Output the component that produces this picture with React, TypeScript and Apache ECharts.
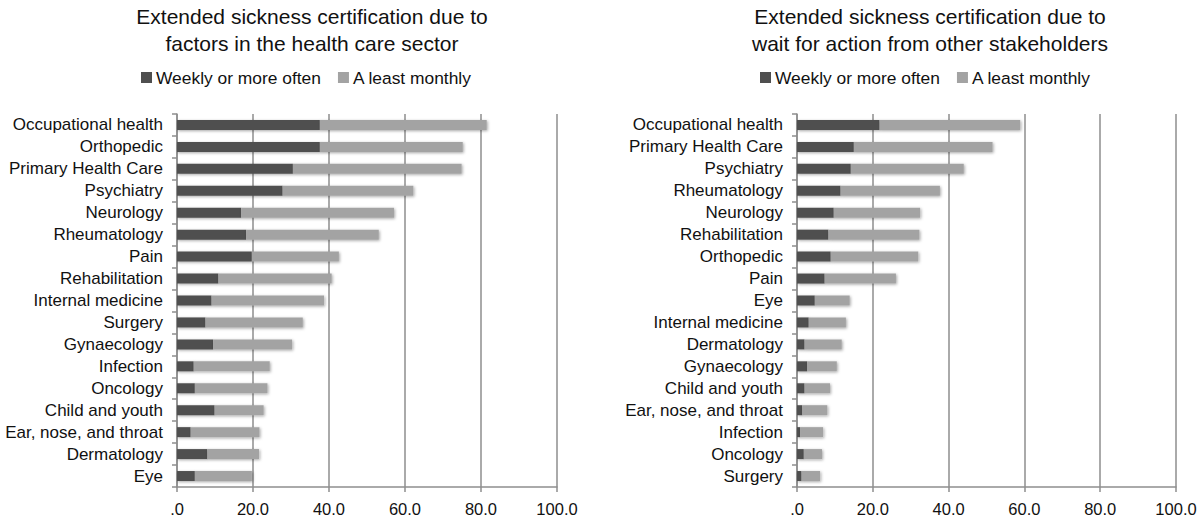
import React, { useEffect, useRef } from "react";
import * as echarts from "echarts";

const leftCategories = [
  "Occupational health", "Orthopedic", "Primary Health Care", "Psychiatry", "Neurology",
  "Rheumatology", "Pain", "Rehabilitation", "Internal medicine", "Surgery", "Gynaecology",
  "Infection", "Oncology", "Child and youth", "Ear, nose, and throat", "Dermatology", "Eye",
];
const leftWeekly = [37.6, 37.6, 30.5, 27.8, 16.9, 18.2, 19.7, 10.9, 9.1, 7.5, 9.5, 4.4, 4.7, 9.9, 3.6, 8.0, 4.7];
const leftMonthly = [43.9, 37.6, 44.4, 34.4, 40.2, 34.9, 22.9, 29.8, 29.6, 25.6, 20.8, 20.0, 19.1, 12.9, 18.1, 13.6, 15.0];

const rightCategories = [
  "Occupational health", "Primary Health Care", "Psychiatry", "Rheumatology", "Neurology",
  "Rehabilitation", "Orthopedic", "Pain", "Eye", "Internal medicine", "Dermatology",
  "Gynaecology", "Child and youth", "Ear, nose, and throat", "Infection", "Oncology", "Surgery",
];
const rightWeekly = [21.8, 15.0, 14.2, 11.5, 9.7, 8.3, 8.9, 7.3, 4.7, 3.1, 2.0, 2.7, 2.0, 1.4, 0.8, 1.8, 1.2];
const rightMonthly = [37.1, 36.6, 29.8, 26.2, 22.8, 24.0, 23.1, 18.8, 9.2, 9.8, 9.8, 7.8, 6.7, 6.6, 6.1, 4.8, 4.9];

const xTicks = [0, 20, 40, 60, 80, 100];
const seriesNames = ["Weekly or more often", "A least monthly"];
const titles = [
  "Extended sickness certification due to\nfactors in the health care sector",
  "Extended sickness certification due to\nwait for action from other stakeholders",
];

const FONT = "'Liberation Sans', Arial, Helvetica, sans-serif";
const DARK = "#4f4f4f";
const LIGHT = "#a3a3a3";
const GRIDC = "#8e8e8e";

export default function App() {
  const ref = useRef<HTMLDivElement>(null);
  useEffect(() => {
    if (!ref.current) return;
    const chart = echarts.init(ref.current, null, { renderer: "svg" });
    const grids = [
      { left: 177, width: 380, top: 114, height: 373 },
      { left: 797, width: 379, top: 114, height: 373 },
    ];
    const cats = [leftCategories, rightCategories];
    const xAxis = grids.map((_, i) => ({
      type: "value",
      gridIndex: i,
      min: xTicks[0],
      max: xTicks[xTicks.length - 1],
      interval: 20,
      axisLine: { show: true, lineStyle: { color: GRIDC, width: 1.5 } },
      axisTick: { show: true, length: 5, lineStyle: { color: GRIDC, width: 1.5 } },
      splitLine: { show: true, lineStyle: { color: GRIDC, width: 1.5 } },
      axisLabel: {
        color: "#111",
        fontSize: 16.5,
        fontFamily: FONT,
        margin: 13,
        formatter: (v: number) => (v === 0 ? ".0" : v.toFixed(1)),
      },
    }));
    const yAxis = grids.map((_, i) => ({
      type: "category",
      gridIndex: i,
      data: cats[i],
      inverse: true,
      axisLine: { show: true, lineStyle: { color: GRIDC, width: 1.5 } },
      axisTick: { show: true, length: 5, interval: 0, alignWithLabel: false, lineStyle: { color: GRIDC, width: 1.5 } },
      axisLabel: { color: "#111", fontSize: 17, fontFamily: FONT, margin: 14, interval: 0 },
    }));
    const shadow = { shadowBlur: 3, shadowOffsetX: 1, shadowOffsetY: 1, shadowColor: "rgba(0,0,0,0.35)" };
    const data = [
      [leftWeekly, leftMonthly],
      [rightWeekly, rightMonthly],
    ];
    const series: any[] = [];
    data.forEach((pair, gi) => {
      pair.forEach((vals, si) => {
        series.push({
          type: "bar",
          name: seriesNames[si],
          xAxisIndex: gi,
          yAxisIndex: gi,
          stack: "s" + gi,
          data: vals,
          barWidth: 10,
          itemStyle: { color: si === 0 ? DARK : LIGHT, ...shadow },
          emphasis: { disabled: true },
        });
      });
    });
    chart.setOption({
      animation: false,
      backgroundColor: "#fff",
      title: [
        { text: titles[0], left: 312, top: 3, textAlign: "center" },
        { text: titles[1], left: 930, top: 3, textAlign: "center" },
      ].map((t) => ({
        ...t,
        padding: 0,
        textStyle: { fontFamily: FONT, fontSize: 21, fontWeight: "normal", color: "#111", lineHeight: 27 },
      })),
      legend: [
        { left: 141, top: 69 },
        { left: 760, top: 69 },
      ].map((l) => ({
        ...l,
        padding: 0,
        data: seriesNames,
        icon: "rect",
        itemWidth: 11,
        itemHeight: 11,
        itemGap: 17,
        selectedMode: false,
        textStyle: { fontFamily: FONT, fontSize: 17.4, color: "#111", padding: [0, 0, 0, -1] },
      })),
      grid: grids,
      xAxis,
      yAxis,
      series,
    });
    return () => chart.dispose();
  }, []);
  return <div ref={ref} style={{ width: 1200, height: 520, position: "absolute", left: 0, top: 0 }} />;
}
